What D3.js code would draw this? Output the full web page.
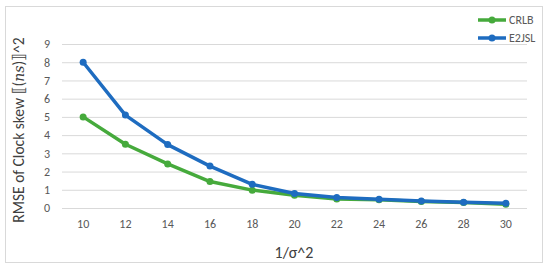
<!DOCTYPE html>
<html><head><meta charset="utf-8">
<script src="https://cdn.jsdelivr.net/npm/d3@7"></script>
<style>body{margin:0;background:#fff}svg{display:block}</style>
</head><body>
<script>
const categories = ["10","12","14","16","18","20","22","24","26","28","30"];
const crlb = [5, 3.5, 2.42, 1.45, 0.98, 0.7, 0.5, 0.45, 0.35, 0.3, 0.2];
const e2jsl = [8, 5.1, 3.48, 2.3, 1.3, 0.8, 0.58, 0.48, 0.38, 0.32, 0.26];
const yTicks = [0,1,2,3,4,5,6,7,8,9];
const seriesNames = ["CRLB","E2JSL"];
const colors = ["#46aa3c","#1e6cc0"];
const FONT = "Carlito, Calibri, 'Liberation Sans', sans-serif";

const W=550,H=270;
const svg=d3.select("body").append("svg").attr("width",W).attr("height",H);
svg.append("rect").attr("x",5.5).attr("y",6.5).attr("width",537).attr("height",256)
  .attr("fill","#fff").attr("stroke","#d9d9d9");

const x=d3.scaleBand().domain(categories).range([62,527]);
const y=d3.scaleLinear().domain([0,9]).range([208,44]);

const gy=svg.append("g").attr("transform","translate(62,0)")
  .call(d3.axisLeft(y).tickValues(yTicks).tickSize(-465).tickPadding(12));
gy.select(".domain").remove();
gy.selectAll("line").attr("stroke","#d9d9d9");
gy.selectAll("text").attr("fill","#595959").style("font-family",FONT).style("font-size","12px");

const gx=svg.append("g").attr("transform","translate(0,208)")
  .call(d3.axisBottom(x).tickSize(0).tickPadding(11));
gx.select(".domain").remove();
gx.selectAll("text").attr("fill","#595959").style("font-family",FONT).style("font-size","12px");

const data=[crlb,e2jsl];
const line=d3.line().x((d,i)=>x(categories[i])+x.bandwidth()/2).y(d=>y(d));
data.forEach((s,k)=>{
  svg.append("path").datum(s).attr("d",line).attr("fill","none")
    .attr("stroke",colors[k]).attr("stroke-width",3.5).attr("stroke-linejoin","round");
  svg.selectAll(null).data(s).enter().append("circle")
    .attr("cx",(d,i)=>x(categories[i])+x.bandwidth()/2).attr("cy",d=>y(d))
    .attr("r",3.5).attr("fill",colors[k]);
});

// legend
seriesNames.forEach((n,k)=>{
  const ly=20+k*18;
  svg.append("line").attr("x1",478).attr("x2",506).attr("y1",ly).attr("y2",ly)
    .attr("stroke",colors[k]).attr("stroke-width",3.5);
  svg.append("circle").attr("cx",492).attr("cy",ly).attr("r",3.5).attr("fill",colors[k]);
  svg.append("text").attr("x",509).attr("y",ly+4).text(n)
    .attr("fill","#595959").style("font-family",FONT).style("font-size","12px");
});

svg.append("text").attr("x",294).attr("y",258).attr("text-anchor","middle").text("1/σ^2")
  .attr("fill","#404040").style("font-family",FONT).style("font-size","16px");
const yt=svg.append("text").attr("transform","translate(24,130) rotate(-90)").attr("text-anchor","middle")
  .attr("fill","#404040").style("font-family",FONT).style("font-size","15.5px");
yt.append("tspan").text("RMSE of Clock skew ⟦(");
yt.append("tspan").style("font-style","italic").style("font-family","'DejaVu Serif', serif").style("font-size","14px").text("ns");
yt.append("tspan").text(")⟧^2");
</script>
</body></html>
